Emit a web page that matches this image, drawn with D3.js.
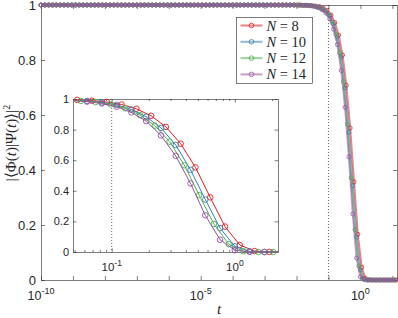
<!DOCTYPE html>
<html>
<head>
<meta charset="utf-8">
<script src="https://cdn.jsdelivr.net/npm/d3@7"></script>
<style>
body { margin: 0; background: #fff; }
text { font-family: "Liberation Sans", Arial, sans-serif; fill: #262626; }
.serif { font-family: "Liberation Serif", "Times New Roman", serif; }
</style>
</head>
<body>
<div id="chart"></div>
<script>
// series names, N values
let names = ['N = 8', 'N = 10', 'N = 12', 'N = 14']
let nValues = ['8', '10', '12', '14']
let colors = ['#e41a1c', '#377eb8', '#4daf4a', '#984ea3']

// shared plateau (log10 t, fidelity) before the decay starts
let plateauLogT = [
    -10, -9.88, -9.76, -9.64, -9.52, -9.40, -9.28, -9.16, -9.04, -8.92,
    -8.80, -8.68, -8.56, -8.44, -8.32, -8.20, -8.08, -7.96, -7.84, -7.72,
    -7.60, -7.48, -7.36, -7.24, -7.12, -7.00, -6.88, -6.76, -6.64, -6.52,
    -6.40, -6.28, -6.16, -6.04, -5.92, -5.80, -5.68, -5.56, -5.44, -5.32,
    -5.20, -5.08, -4.96, -4.84, -4.72, -4.60, -4.48, -4.36, -4.24, -4.12,
    -4.00, -3.88, -3.76, -3.64, -3.52, -3.40, -3.28, -3.16, -3.04, -2.92,
    -2.80, -2.68, -2.56, -2.44, -2.32, -2.20, -2.08
]
let plateauF = [
    1, 1, 1, 1, 1, 1, 1, 1, 1, 1,
    1, 1, 1, 1, 1, 1, 1, 1, 1, 1,
    1, 1, 1, 1, 1, 1, 1, 1, 1, 1,
    1, 1, 1, 1, 1, 1, 1, 1, 1, 1,
    1, 1, 1, 1, 1, 1, 1, 1, 1, 1,
    1, 1, 1, 1, 1, 1, 1, 1, 1, 1,
    1, 1, 1, 1, 1, 1, 1
]

// decay part of each series (log10 t, fidelity)
let logT8 = [-2.00, -1.88, -1.76, -1.64, -1.52, -1.40, -1.28, -1.16, -1.04, -0.92, -0.80, -0.68, -0.56, -0.44,
    -0.32, -0.20, -0.08, 0.04, 0.16, 0.28, 0.40, 0.52, 0.64, 0.76, 0.88, 1.00, 1.12]
let f8 = [1.000, 1.000, 0.999, 0.999, 0.998, 0.996, 0.994, 0.989, 0.980, 0.964, 0.936, 0.890, 0.818, 0.708,
    0.553, 0.357, 0.166, 0.046, 0.006, 0.001, 0, 0, 0, 0, 0, 0, 0]

let logT10 = [-1.92, -1.80, -1.68, -1.56, -1.44, -1.32, -1.20, -1.08, -0.96, -0.84, -0.72, -0.60, -0.48,
    -0.36, -0.24, -0.12, 0.00, 0.12, 0.24, 0.36, 0.48, 0.60, 0.72, 0.84, 0.96, 1.08]
let f10 = [1.000, 0.999, 0.999, 0.998, 0.996, 0.993, 0.987, 0.978, 0.962, 0.931, 0.884, 0.811, 0.699,
    0.537, 0.343, 0.156, 0.037, 0.004, 0, 0, 0, 0, 0, 0, 0, 0]

let logT12 = [-1.97, -1.85, -1.73, -1.61, -1.49, -1.37, -1.25, -1.13, -1.01, -0.89, -0.77, -0.65, -0.53,
    -0.41, -0.29, -0.17, -0.05, 0.07, 0.19, 0.31, 0.43, 0.55, 0.67, 0.79, 0.91, 1.03]
let f12 = [1.000, 0.999, 0.999, 0.998, 0.996, 0.993, 0.988, 0.980, 0.965, 0.939, 0.894, 0.826, 0.721,
    0.567, 0.372, 0.183, 0.051, 0.005, 0, 0, 0, 0, 0, 0, 0, 0]

let logT14 = [-1.92, -1.80, -1.68, -1.56, -1.44, -1.32, -1.20, -1.08, -0.96, -0.84, -0.72, -0.60, -0.48,
    -0.36, -0.24, -0.12, 0.00, 0.12, 0.24, 0.36, 0.48, 0.60, 0.72, 0.84, 0.96, 1.08]
let f14 = [0.999, 0.999, 0.998, 0.997, 0.995, 0.990, 0.983, 0.971, 0.950, 0.912, 0.856, 0.762, 0.628,
    0.448, 0.240, 0.080, 0.012, 0.001, 0, 0, 0, 0, 0, 0, 0, 0]

// ticks
let mainXTicks = [1e-10, 1e-9, 1e-8, 1e-7, 1e-6, 1e-5, 1e-4, 1e-3, 1e-2, 1e-1, 1, 10]
let mainXLabels = [[1e-10, '-10'], [1e-5, '-5'], [1, '0']]
let yTicks = [0, 0.2, 0.4, 0.6, 0.8, 1]
let insetXTicks = [0.05, 0.06, 0.07, 0.08, 0.09, 0.1, 0.2, 0.3, 0.4, 0.5, 0.6, 0.7, 0.8, 0.9, 1, 2]
let insetXLabels = [[0.1, '-1'], [1, '0']]
let markerLine = 0.1 // dotted reference line

let logTs = [logT8, logT10, logT12, logT14]
let fs = [f8, f10, f12, f14]

let width = 398
let height = 318

let svg = d3.select('#chart')
    .append('svg')
    .attr('width', width)
    .attr('height', height)

// main axes
let x = d3.scaleLog().domain([1e-10, Math.pow(10, 1.146)]).range([41, 397])
let y = d3.scaleLinear().domain([0, 1]).range([280, 5])
// inset axes
let xi = d3.scaleLog().domain([0.0485, 2.24]).range([73, 278])
let yi = d3.scaleLinear().domain([0, 1]).range([252, 99])

let series = names.map((name, i) => {
    let lt = plateauLogT.concat(logTs[i])
    let f = plateauF.concat(fs[i])
    return {
        name: name,
        n: nValues[i],
        color: colors[i],
        points: lt.map((e, j) => ({ t: Math.pow(10, e), f: f[j] }))
    }
})

const axisColor = '#262626'

function styleAxis(g) {
    g.select('.domain').attr('stroke', axisColor).attr('stroke-width', 0.6)
    g.selectAll('.tick line').attr('stroke', axisColor).attr('stroke-width', 0.6)
}

function yFormat(d) {
    return (d === 0 || d === 1) ? String(d) : d3.format('.1f')(d)
}

function powerLabel(g, xs, list, yPos, size, supSize) {
    list.forEach(([v, sup]) => {
        let t = g.append('text')
            .attr('x', xs(v))
            .attr('y', yPos)
            .attr('text-anchor', 'middle')
            .style('font-size', size + 'px')
        t.append('tspan').text('10')
        t.append('tspan').text(sup)
            .attr('dy', -size * 0.45)
            .style('font-size', supSize + 'px')
    })
}

// ---------- main plot ----------
let main = svg.append('g')

main.append('line')
    .attr('x1', x(markerLine)).attr('x2', x(markerLine))
    .attr('y1', y(1)).attr('y2', y(0))
    .attr('stroke', axisColor).attr('stroke-width', 0.7)
    .attr('stroke-dasharray', '1,2')

main.append('g')
    .attr('transform', `translate(0, ${y(0)})`)
    .call(d3.axisBottom(x).tickValues(mainXTicks).tickSize(-4).tickSizeOuter(0).tickFormat(''))
    .call(styleAxis)
main.append('g')
    .attr('transform', `translate(0, ${y(1)})`)
    .call(d3.axisTop(x).tickValues(mainXTicks).tickSize(-4).tickSizeOuter(0).tickFormat(''))
    .call(styleAxis)
main.append('g')
    .attr('transform', `translate(${x.range()[0]}, 0)`)
    .call(d3.axisLeft(y).tickValues(yTicks).tickSize(-4).tickSizeOuter(0).tickPadding(5).tickFormat(yFormat))
    .call(styleAxis)
    .selectAll('text').style('font-size', '13px')
main.append('g')
    .attr('transform', `translate(${x.range()[1]}, 0)`)
    .call(d3.axisRight(y).tickValues(yTicks).tickSize(-4).tickSizeOuter(0).tickFormat(''))
    .call(styleAxis)

powerLabel(main, x, mainXLabels, 300, 12.5, 9)

main.append('text')
    .attr('class', 'serif')
    .attr('x', 219)
    .attr('y', 314)
    .attr('text-anchor', 'middle')
    .style('font-size', '15px')
    .style('font-style', 'italic')
    .text('t')

let ylab = main.append('text')
    .attr('class', 'serif')
    .attr('transform', 'translate(16, 143) rotate(-90)')
    .attr('text-anchor', 'middle')
    .style('font-size', '15px')
ylab.append('tspan').text('|\u27E8\u03A6(')
ylab.append('tspan').text('t').style('font-style', 'italic')
ylab.append('tspan').text(')|\u03A8(')
ylab.append('tspan').text('t').style('font-style', 'italic')
ylab.append('tspan').text(')\u27E9|')
ylab.append('tspan').text('2').attr('dy', -6).style('font-size', '10px')

let mainLine = d3.line().x(d => x(d.t)).y(d => y(d.f))

series.forEach(s => {
    let g = main.append('g')
    g.append('path')
        .attr('d', mainLine(s.points))
        .attr('fill', 'none')
        .attr('stroke', s.color)
        .attr('stroke-opacity', 0.55)
        .attr('stroke-width', 2)
    g.selectAll('circle')
        .data(s.points)
        .join('circle')
        .attr('cx', d => x(d.t))
        .attr('cy', d => y(d.f))
        .attr('r', 2)
        .attr('fill', 'none')
        .attr('stroke', s.color)
        .attr('stroke-width', 0.8)
})

// ---------- inset ----------
let inset = svg.append('g')

inset.append('rect')
    .attr('x', xi.range()[0]).attr('y', yi(1))
    .attr('width', xi.range()[1] - xi.range()[0])
    .attr('height', yi(0) - yi(1))
    .attr('fill', '#fff')

svg.append('clipPath').attr('id', 'inset-clip')
    .append('rect')
    .attr('x', xi.range()[0]).attr('y', yi(1) - 5)
    .attr('width', xi.range()[1] - xi.range()[0])
    .attr('height', yi(0) - yi(1) + 10)

inset.append('line')
    .attr('x1', xi(markerLine)).attr('x2', xi(markerLine))
    .attr('y1', yi(1)).attr('y2', yi(0))
    .attr('stroke', axisColor).attr('stroke-width', 0.7)
    .attr('stroke-dasharray', '1,2')

function insetTickSize(d) {
    return (d === 0.1 || d === 1) ? -3.5 : -2
}

let ixb = inset.append('g')
    .attr('transform', `translate(0, ${yi(0)})`)
    .call(d3.axisBottom(xi).tickValues(insetXTicks).tickSize(-3.5).tickSizeOuter(0).tickFormat(''))
    .call(styleAxis)
ixb.selectAll('.tick line').attr('y2', d => insetTickSize(d))
let ixt = inset.append('g')
    .attr('transform', `translate(0, ${yi(1)})`)
    .call(d3.axisTop(xi).tickValues(insetXTicks).tickSize(-3.5).tickSizeOuter(0).tickFormat(''))
    .call(styleAxis)
ixt.selectAll('.tick line').attr('y2', d => -insetTickSize(d))
inset.append('g')
    .attr('transform', `translate(${xi.range()[0]}, 0)`)
    .call(d3.axisLeft(yi).tickValues(yTicks).tickSize(-3.5).tickSizeOuter(0).tickPadding(4).tickFormat(yFormat))
    .call(styleAxis)
    .selectAll('text').style('font-size', '11px')
inset.append('g')
    .attr('transform', `translate(${xi.range()[1]}, 0)`)
    .call(d3.axisRight(yi).tickValues(yTicks).tickSize(-3.5).tickSizeOuter(0).tickFormat(''))
    .call(styleAxis)

powerLabel(inset, xi, insetXLabels, 271, 11.5, 8.5)

let insetLine = d3.line().x(d => xi(d.t)).y(d => yi(d.f))
let [ilo, ihi] = xi.domain()

series.forEach(s => {
    let g = inset.append('g')
    g.append('path')
        .attr('d', insetLine(s.points.filter(d => d.t > ilo / 3 && d.t < ihi * 3)))
        .attr('clip-path', 'url(#inset-clip)')
        .attr('fill', 'none')
        .attr('stroke', s.color)
        .attr('stroke-width', 1)
    g.selectAll('circle')
        .data(s.points.filter(d => d.t >= ilo && d.t <= ihi))
        .join('circle')
        .attr('cx', d => xi(d.t))
        .attr('cy', d => yi(d.f))
        .attr('r', 2.8)
        .attr('fill', 'none')
        .attr('stroke', s.color)
        .attr('stroke-width', 0.9)
})

// ---------- legend ----------
let legend = svg.append('g').attr('transform', 'translate(236.5, 17.5)')
legend.append('rect')
    .attr('width', 76).attr('height', 66)
    .attr('fill', '#fff')
    .attr('stroke', axisColor).attr('stroke-width', 0.6)

series.forEach((s, i) => {
    let ly = 8 + i * 16.3
    legend.append('line')
        .attr('x1', 4).attr('x2', 26)
        .attr('y1', ly).attr('y2', ly)
        .attr('stroke', s.color).attr('stroke-opacity', 0.55).attr('stroke-width', 2)
    legend.append('circle')
        .attr('cx', 15).attr('cy', ly).attr('r', 2.3)
        .attr('fill', 'none').attr('stroke', s.color).attr('stroke-width', 0.8)
    let t = legend.append('text')
        .attr('class', 'serif')
        .attr('x', 30).attr('y', ly + 5)
        .style('font-size', '14.5px')
    t.append('tspan').text('N').style('font-style', 'italic')
    t.append('tspan').text(' = ' + s.n)
})
</script>
</body>
</html>
